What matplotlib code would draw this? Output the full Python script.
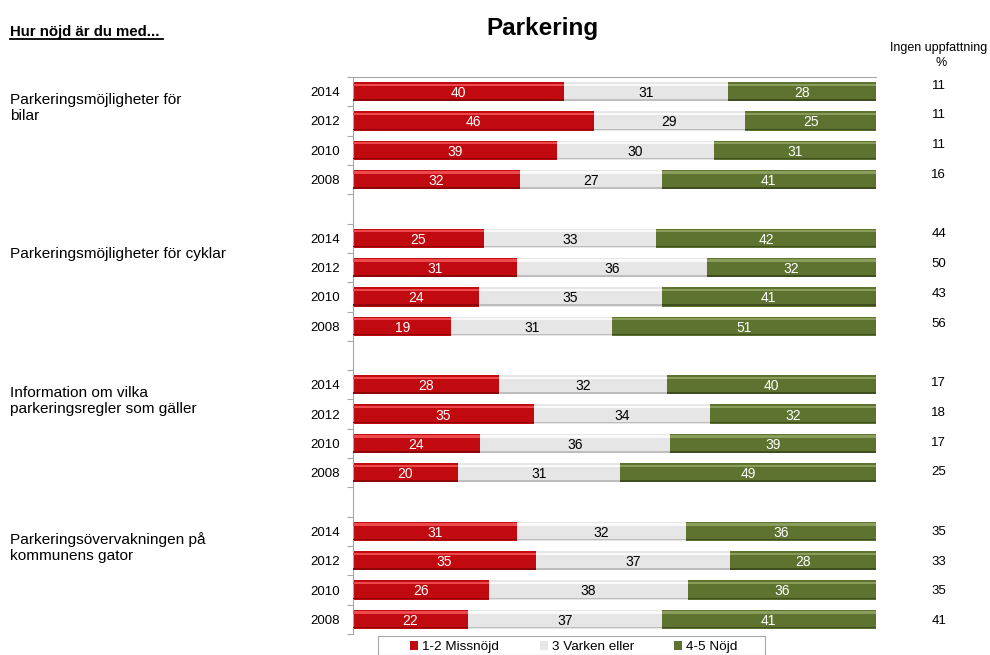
import matplotlib
matplotlib.use("Agg")
import matplotlib.pyplot as plt
import numpy as np
from matplotlib.patches import Patch, Rectangle

plt.rcParams['font.family'] = ['Liberation Sans', 'DejaVu Sans']

# ---- data ----
questions = ["Parkeringsmöjligheter för\nbilar",
             "Parkeringsmöjligheter för cyklar",
             "Information om vilka\nparkeringsregler som gäller",
             "Parkeringsövervakningen på\nkommunens gator"]
years = ["2014", "2012", "2010", "2008"]
series_names = ["1-2 Missnöjd", "3 Varken eller", "4-5 Nöjd"]

missnojd = [40, 46, 39, 32,  25, 31, 24, 19,  28, 35, 24, 20,  31, 35, 26, 22]
varken   = [31, 29, 30, 27,  33, 36, 35, 31,  32, 34, 36, 31,  32, 37, 38, 37]
nojd     = [28, 25, 31, 41,  42, 32, 41, 51,  40, 32, 39, 49,  36, 28, 36, 41]
ingen    = [11, 11, 11, 16,  44, 50, 43, 56,  17, 18, 17, 25,  35, 33, 35, 41]

colors = ["#C00A0F", "#E6E6E6", "#5E7330"]
highlights = ["#EE4A4E", "#FAFAFA", "#8A9D5A"]
shadows = ["#8E0508", "#BDBDBD", "#3F4E1E"]
text_colors = ["white", "black", "white"]

# ---- layout positions ----
pos = []
for g in range(len(questions)):
    for i in range(len(years)):
        pos.append(g * 5 + i)
pos = np.array(pos, dtype=float)

vals = np.array([missnojd, varken, nojd], dtype=float)
totals = vals.sum(axis=0)
pct = vals / totals * 100

fig = plt.figure(figsize=(9.9, 6.55), dpi=100)
ax = fig.add_axes([353 / 990, 1 - 634 / 655, (876 - 353) / 990, (634 - 77) / 655])

bh = 0.66
left = np.zeros(len(pos))
for k in range(3):
    w = pct[k]
    ax.barh(pos, w, left=left, height=bh, color=colors[k], edgecolor='none', zorder=2)
    # bevel: light top strip, dark bottom strip
    ax.barh(pos - bh * 0.36, w, left=left, height=bh * 0.12, color=highlights[k],
            edgecolor='none', zorder=3)
    ax.barh(pos + bh * 0.43, w, left=left, height=bh * 0.08, color=shadows[k],
            edgecolor='none', zorder=3)
    for p, l, ww, v in zip(pos, left, w, vals[k]):
        ax.text(l + ww / 2, p + 0.05, f"{int(v)}", ha='center', va='center',
                fontsize=10, color=text_colors[k], zorder=4)
    left = left + w

ax.set_xlim(0, 100)
ax.set_ylim(pos.max() + 0.5, -0.5)
ax.set_xticks([])
ax.set_yticks(pos)
ax.set_yticklabels([years[i % 4] for i in range(len(pos))], fontsize=9.5)
ax.tick_params(axis='y', which='major', length=0, pad=9.5)
ax.set_yticks(np.arange(-0.5, pos.max() + 1, 1.0), minor=True)
ax.tick_params(axis='y', which='minor', length=4, color='#A6A6A6', width=0.8)
for s in ['right', 'bottom']:
    ax.spines[s].set_visible(False)
for s in ['left', 'top']:
    ax.spines[s].set_color('#A6A6A6')
    ax.spines[s].set_linewidth(0.8)

# Question labels
for g, q in enumerate(questions):
    y = g * 5 + 0.55
    ax.text(-0.656, y, q, transform=ax.get_yaxis_transform(), ha='left', va='center',
            fontsize=11.1, linespacing=1.2)

# Ingen uppfattning column
for p, v in zip(pos, ingen):
    ax.text(1.12, p * 1.015 - 0.21, f"{v}", transform=ax.get_yaxis_transform(),
            ha='center', va='center', fontsize=9.5)
fig.text(939 / 990, 1 - 48 / 655, "Ingen uppfattning", ha='center', va='center', fontsize=9)
fig.text(941 / 990, 1 - 63 / 655, "%", ha='center', va='center', fontsize=9)

# Titles
fig.text(542 / 990, 1 - 28 / 655, "Parkering", ha='center', va='center',
         fontsize=17.5, fontweight='bold')
fig.text(10 / 990, 1 - 32 / 655, "Hur nöjd är du med...", ha='left', va='center',
         fontsize=10.8, fontweight='bold')
fig.add_artist(plt.Line2D([10 / 990, 163 / 990], [1 - 38.5 / 655, 1 - 38.5 / 655],
                          color='black', linewidth=1.3))

# Legend (frameless) with a separate box
fig.add_artist(Rectangle((378 / 990, 0), (765 - 378) / 990, 1 - 636 / 655,
                         transform=fig.transFigure, facecolor='white',
                         edgecolor='#A6A6A6', linewidth=0.8))
handles = [Patch(facecolor=c, edgecolor='none') for c in colors]
leg = fig.legend(handles, series_names, loc='center',
                 bbox_to_anchor=(574 / 990, 1 - 647 / 655), ncol=3, fontsize=9.7,
                 frameon=False, handlelength=0.6, handleheight=0.6,
                 columnspacing=3.0, handletextpad=0.3, borderpad=0.0,
                 borderaxespad=0)

fig.savefig("out.png", dpi=100)
